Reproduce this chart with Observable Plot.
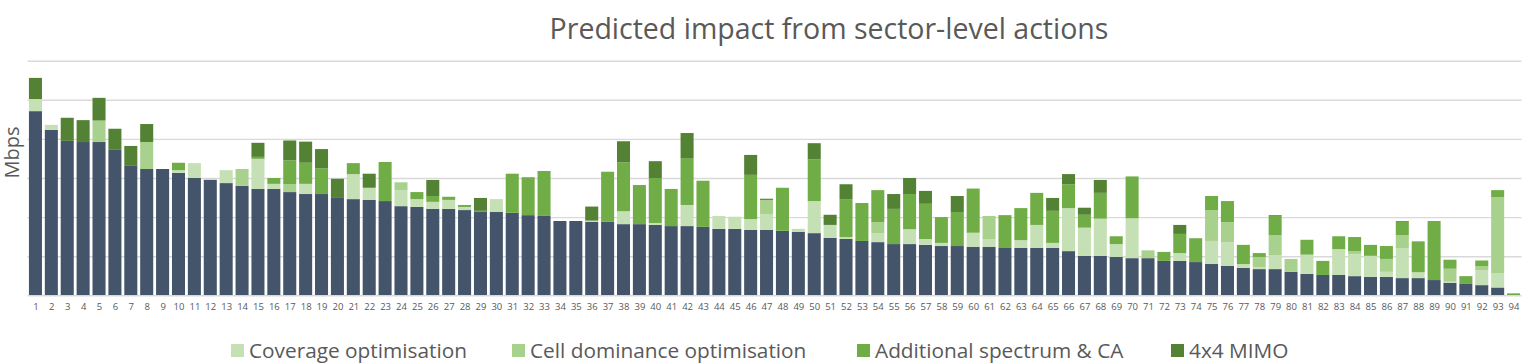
<!DOCTYPE html>
<html>
<head>
<meta charset="utf-8">
<script src="https://cdn.jsdelivr.net/npm/d3@7"></script>
<script src="https://cdn.jsdelivr.net/npm/@observablehq/plot@0.6"></script>
<style>
  html, body { margin: 0; padding: 0; background: #fff; }
  body { width: 1527px; height: 363px; position: relative; overflow: hidden; font-family: "Open Sans", sans-serif; color: #595959; }
  #title { position: absolute; top: 8px; left: 829px; transform: translateX(-50%); font-size: 28.5px; line-height: 40px; white-space: nowrap; color: #595959; }
  #chart { position: absolute; top: 50px; left: 0; }
  .lg { position: absolute; top: 336px; font-size: 20.8px; line-height: 28px; white-space: nowrap; color: #595959; }
  .sw { position: absolute; width: 13px; height: 13px; top: 344px; }
</style>
</head>
<body>
<div id="title">Predicted impact from sector-level actions</div>
<div id="chart"></div>
<div id="legend"></div>
<script>
const sectors = d3.range(1, 95);
const seriesNames = ["Base", "Coverage optimisation", "Cell dominance optimisation", "Additional spectrum & CA", "4x4 MIMO"];
const seriesColors = ["#44546a", "#c5e0b4", "#a9d18e", "#70ad47", "#548235"];

const base = [47.1,42.3,39.5,39.2,39.2,37.2,33.1,32.3,32.3,31.3,30.0,29.5,28.7,28.0,27.2,27.2,26.4,25.9,25.9,24.9,
  24.6,24.4,24.1,22.8,22.6,22.1,22.1,21.8,21.3,21.3,21.1,20.5,20.3,19.0,19.0,18.8,18.8,18.2,18.2,18.0,
  17.7,17.7,17.5,17.0,17.0,16.7,16.7,16.5,16.2,15.9,14.7,14.4,13.9,13.6,13.1,13.1,12.9,12.6,12.6,12.4,
  12.4,12.1,12.1,12.1,12.1,11.3,10.1,10.1,9.8,9.5,9.5,8.8,8.8,8.5,8.0,7.5,7.0,6.7,6.7,6.0,
  5.5,5.2,5.2,4.9,4.7,4.7,4.4,4.4,3.9,3.2,2.9,2.6,2.0,0];
const coverage = [3.1,1.3,0,0,0,0,0,0,0,0.7,3.8,0.3,3.3,0,7.7,1.3,0,2.6,0,0,
  6.4,3.1,0,4.1,2.0,1.8,2.3,0.8,0,3.3,0,0,0,0,0,0.3,0,3.3,0,0.5,
  0,5.4,0,3.3,3.1,2.8,4.1,0,0.8,8.2,3.3,0.5,0,2.3,0,3.8,1.5,0.8,0,3.6,
  2.0,0,2.0,5.9,1.3,11.0,7.2,9.5,3.3,10.2,0,0,2.0,0,5.9,6.1,1.0,0.5,3.6,0,
  4.9,0,6.6,5.6,5.4,1.3,7.7,1.5,0,0.3,0,3.8,3.7,0];
const cellDominance = [0,0,0,0,5.5,0,0,6.9,0,0,0,0,0,4.3,0,0,2.0,0,0,0,
  0,0,0,2.0,0,0,0,0,0,0,0,0,0,0,0,0,0,0,0,0,
  0,0,0,0,0,0,3.6,0,0,0,0,0,0,2.8,0,0,0,0,0,0,
  5.9,0,0,0,0,0,0,0,0,0,2.0,0,0,0,7.9,5.1,0,2.6,5.1,3.3,
  0,0,0,0.8,0,3.3,3.3,0,0,3.3,0,1.0,19.4,0];
const spectrum = [0,0,0,0,0,0,0,0,0,1.9,0,0,0,0,0.5,1.5,6.1,5.4,6.6,0,
  2.8,0,10.0,0,1.8,1.5,0.8,0.5,0.3,0,10.0,9.7,11.5,0,0,0,12.8,12.5,10.0,11.5,
  9.5,12.0,11.8,0,0,11.3,0,11.0,0,10.7,0,9.7,9.7,8.2,9.0,9.0,9.0,6.6,8.7,11.3,
  0,8.4,8.2,8.2,8.2,6.1,3.3,6.6,2.0,10.7,0,2.3,4.9,6.1,3.6,5.4,4.9,1.0,4.9,0,
  3.8,3.6,3.3,3.6,2.8,3.3,3.4,7.9,15.1,2.3,2.0,1.5,1.8,0.5];
const mimo = [5.4,0,5.9,5.6,5.8,5.4,5.1,4.6,0,0,0,0,0,0,3.6,0,5.1,5.4,4.9,4.9,
  0,3.6,0,0,0,4.1,0,0,3.3,0,0,0,0,0,0,3.6,0,5.4,0,4.3,
  0,6.4,0,0,0,5.1,0.3,0,0,4.1,2.6,3.8,0,0,3.8,4.1,3.3,0,4.1,0,
  0,0,0,0,3.3,2.6,1.8,3.3,0,0,0,0,2.3,0,0,0,0,0,0.2,0,
  0,0,0,0,0,0,0.2,0,0,0,0,0,0,0];

const seriesValues = [base, coverage, cellDominance, spectrum, mimo];
const rows = [];
sectors.forEach((s, i) => {
  seriesNames.forEach((name, k) => rows.push({sector: s, series: name, value: seriesValues[k][i]}));
});

const gridValues = [10, 20, 30, 40, 50, 60];

const chart = Plot.plot({
  width: 1527,
  height: 275,
  marginTop: 10.7,
  marginBottom: 29.7,
  marginLeft: 27.5,
  marginRight: 5.5,
  style: {fontFamily: "Open Sans, sans-serif", color: "#595959", background: "#fff", overflow: "visible"},
  x: {domain: sectors, paddingInner: 0.18, paddingOuter: 0.09, label: null, tickSize: 0, tickPadding: 7},
  y: {domain: [0, 60], axis: null},
  color: {domain: seriesNames, range: seriesColors},
  marks: [
    Plot.ruleY(gridValues, {stroke: "#d9d9d9", strokeWidth: 1.4}),
    Plot.barY(rows, {x: "sector", y: "value", fill: "series", order: seriesNames}),
    Plot.ruleY([0], {stroke: "#d9d9d9", strokeWidth: 1.4}),
    Plot.axisX({tickSize: 0, tickPadding: 7, fontSize: 9.5, fill: "#595959", label: null}),
    Plot.text(["Mbps"], {frameAnchor: "left", dx: -15.5, rotate: -90, fontSize: 20, fill: "#595959"})
  ]
});
document.getElementById("chart").appendChild(chart);

const legendX = [231, 512, 857, 1171];
const legend = document.getElementById("legend");
seriesNames.slice(1).forEach((name, k) => {
  const sw = document.createElement("div");
  sw.className = "sw";
  sw.style.left = legendX[k] + "px";
  sw.style.background = seriesColors[k + 1];
  legend.appendChild(sw);
  const t = document.createElement("div");
  t.className = "lg";
  t.style.left = (legendX[k] + 18) + "px";
  t.textContent = name;
  legend.appendChild(t);
});
</script>
</body>
</html>
